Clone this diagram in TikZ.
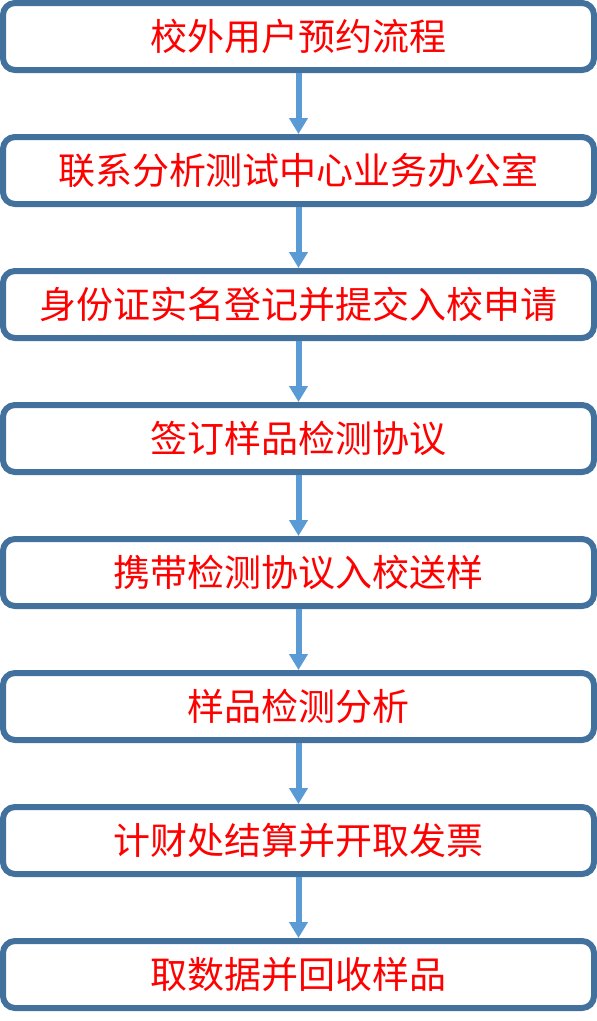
\documentclass[tikz,border=0pt]{standalone}
\usepackage{fontspec}
\setmainfont{Noto Sans CJK SC}
\usepackage{tikz}
\usetikzlibrary{positioning}
\usetikzlibrary{arrows.meta}
\definecolor{steelblue}{RGB}{65, 113, 156}
\definecolor{skyblue}{RGB}{91, 155, 213}
\definecolor{brightred}{RGB}{255, 0, 0}

\tikzset{
  stepbox/.style={draw=steelblue, line width=6pt, rounded corners=12pt, fill=white,
                  minimum width=591pt, minimum height=67pt, inner sep=0pt,
                  text=brightred, font=\fontsize{37pt}{44pt}\selectfont},
  flowarrow/.style={draw=skyblue, line width=6pt,
                    -{Triangle[length=16pt, width=18pt]}}
}

\begin{document}
\begin{tikzpicture}[node distance=61pt]
            \useasboundingbox (0,0) rectangle (597pt,-1021pt);
            % boxes
            \node[stepbox] (booking)  at (298.5pt,-36.5pt) {校外用户预约流程};
            \node[stepbox, below=of booking]  (contact)  {联系分析测试中心业务办公室};
            \node[stepbox, below=of contact]  (register) {身份证实名登记并提交入校申请};
            \node[stepbox, below=of register] (sign)     {签订样品检测协议};
            \node[stepbox, below=of sign]     (deliver)  {携带检测协议入校送样};
            \node[stepbox, below=of deliver]  (analyse)  {样品检测分析};
            \node[stepbox, below=of analyse]  (payment)  {计财处结算并开取发票};
            \node[stepbox, below=of payment]  (collect)  {取数据并回收样品};
            % arrows
            \draw[flowarrow] (booking)  -- (contact);
            \draw[flowarrow] (contact)  -- (register);
            \draw[flowarrow] (register) -- (sign);
            \draw[flowarrow] (sign)     -- (deliver);
            \draw[flowarrow] (deliver)  -- (analyse);
            \draw[flowarrow] (analyse)  -- (payment);
            \draw[flowarrow] (payment)  -- (collect);
        \end{tikzpicture}
\end{document}
